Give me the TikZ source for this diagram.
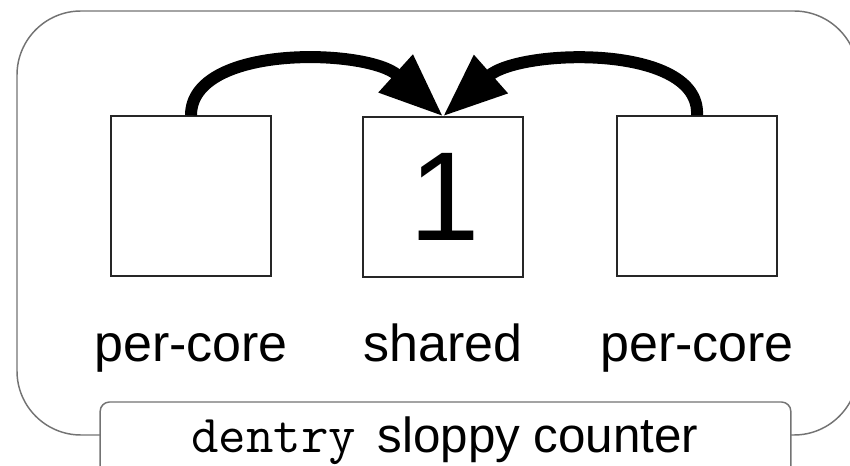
\documentclass[tikz,border=0pt]{standalone}
\usepackage{fontspec}
\setmainfont{Liberation Sans}
\usetikzlibrary{arrows.meta}
\begin{document}
\begin{tikzpicture}[x=0.75pt, y=-0.75pt,
  frame/.style={draw=black!55, line width=1.1pt, rounded corners=48pt},
  cell/.style={draw=black!85, line width=1.4pt, minimum width=120pt, minimum height=119.5pt, inner sep=0pt},
  tag/.style={anchor=base, font=\fontsize{39}{46}\selectfont, inner sep=0pt},
  capbox/.style={draw=black!55, fill=white, line width=1.1pt, rounded corners=7pt,
    minimum width=518pt, minimum height=72pt, inner sep=0pt},
  flow/.style={line width=9pt, -{Triangle[length=48pt, width=36pt]}}]
  \clip (0,0) rectangle (850,466);
  \useasboundingbox (0,0) rectangle (850,466);
  % outer frame of the counter
  \draw[frame] (17,11) rectangle (858,435);
  % caption tab over the bottom edge
  \node[capbox] (cap) at (445.5,450) {};
  \node[anchor=base, inner sep=0pt] (captext) at (445,453)
    {\fontsize{40}{44}\selectfont\ttfamily dentry\hspace{16pt}\fontsize{37}{42}\selectfont\rmfamily sloppy counter};
  % the three counters
  \node[cell] (L) at (191,196) {};
  \node[cell] (M) at (443,197) {};
  \node[cell] (R) at (697,196) {};
  \node[font=\fontsize{95}{100}\selectfont, inner sep=0pt] (one) at (445,197) {1};
  % labels
  \node[tag] (tL) at (191,362) {per-core};
  \node[tag] (tM) at (443,362) {shared};
  \node[tag] (tR) at (697,362) {per-core};
  % per-core counters flush into the shared one
  \draw[flow] (L.north) .. controls +(0,-72) and +(-75,-68) .. (M.north);
  \draw[flow] (R.north) .. controls +(4,-72) and +(77,-68) .. (M.north);
\end{tikzpicture}
\end{document}
